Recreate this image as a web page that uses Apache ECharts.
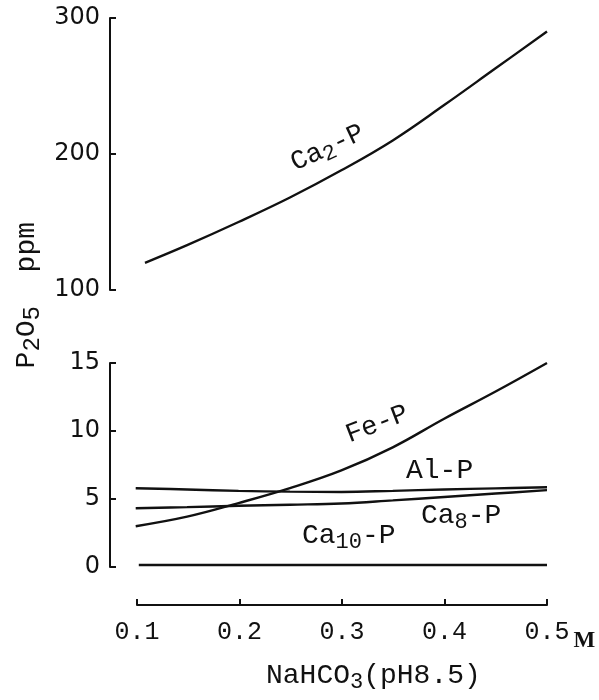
<!DOCTYPE html>
<html>
<head>
<meta charset="utf-8">
<script src="https://cdn.jsdelivr.net/npm/echarts@6/dist/echarts.min.js"></script>
<style>
  html, body { margin: 0; padding: 0; background: #fff; }
  #chart { width: 599px; height: 700px; }
</style>
</head>
<body>
<div id="chart"></div>
<script>
// NaHCO3 concentration (M) vs extracted P2O5 (ppm)
const xCa2 = [0.109, 0.15, 0.2, 0.25, 0.3, 0.35, 0.4, 0.45, 0.5];
const ca2P = [120, 133, 150, 168, 188, 210, 236, 263, 290];

const xLow = [0.1, 0.15, 0.2, 0.25, 0.3, 0.35, 0.4, 0.45, 0.5];
const feP = [3.0, 3.7, 4.7, 5.8, 7.1, 8.8, 10.9, 12.9, 15.0];
const alP = [5.79, 5.7, 5.6, 5.54, 5.52, 5.6, 5.7, 5.78, 5.86];
const ca8P = [4.32, 4.4, 4.5, 4.58, 4.67, 4.9, 5.15, 5.4, 5.65];

const xCa10 = [0.103, 0.5];
const ca10P = [0.15, 0.15];

const pair = (xs, ys) => xs.map((x, i) => [x, ys[i]]);

const mono = "Liberation Mono";
const sans = "DejaVu Sans";
const ink = "#111";

const yAxisBase = {
  axisLine: { show: true, lineStyle: { color: ink, width: 2 } },
  axisTick: { show: true, inside: true, length: 6, lineStyle: { color: ink, width: 2 } },
  axisLabel: { color: ink, fontFamily: sans, fontSize: 24, margin: 10 },
  splitLine: { show: false },
};

const lineBase = {
  type: "line",
  smooth: 0.4,
  showSymbol: false,
  lineStyle: { color: ink, width: 2.4 },
  silent: true,
};

function richFor(size, subSize) {
  return {
    a: { fontFamily: mono, fontSize: size, color: ink, lineHeight: 32 },
    s: { fontFamily: mono, fontSize: subSize, color: ink, lineHeight: 32, padding: [12, 0, 0, 0] },
  };
}

function label(text, left, top, rotation, size, subSize) {
  return {
    type: "text",
    left,
    top,
    rotation: rotation || 0,
    style: { text, rich: richFor(size || 28, subSize || 22), fill: ink },
  };
}

const chart = echarts.init(document.getElementById("chart"));
chart.setOption({
  animation: false,
  backgroundColor: "#fff",
  grid: [
    { left: 110, top: 18, width: 437, height: 272 },
    { left: 110, top: 363, width: 437, height: 204 },
    { left: 137, top: 604, width: 410, height: 1 },
  ],
  xAxis: [
    { gridIndex: 0, type: "value", min: 0.075, max: 0.5, show: false },
    { gridIndex: 1, type: "value", min: 0.075, max: 0.5, show: false },
    {
      gridIndex: 2,
      type: "value",
      min: 0.1,
      max: 0.5,
      interval: 0.1,
      position: "bottom",
      axisLine: { show: true, lineStyle: { color: ink, width: 2 } },
      axisTick: { show: true, inside: true, length: 6, lineStyle: { color: ink, width: 2 } },
      axisLabel: {
        color: ink,
        fontFamily: mono,
        fontSize: 25,
        margin: 15,
        formatter: (v) => v.toFixed(1),
      },
      splitLine: { show: false },
      name: "M",
      nameLocation: "end",
      nameGap: 0,
      nameTextStyle: {
        color: ink,
        fontFamily: "Liberation Serif",
        fontSize: 23,
        fontWeight: "bold",
        verticalAlign: "top",
        padding: [25, 0, 0, 0],
      },
    },
  ],
  yAxis: [
    Object.assign({ gridIndex: 0, type: "value", min: 100, max: 300, interval: 100 }, yAxisBase),
    Object.assign({ gridIndex: 1, type: "value", min: 0, max: 15, interval: 5 }, yAxisBase),
    { gridIndex: 2, type: "value", show: false },
  ],
  series: [
    Object.assign({ name: "Ca2-P", xAxisIndex: 0, yAxisIndex: 0, data: pair(xCa2, ca2P) }, lineBase),
    Object.assign({ name: "Fe-P", xAxisIndex: 1, yAxisIndex: 1, data: pair(xLow, feP) }, lineBase),
    Object.assign({ name: "Al-P", xAxisIndex: 1, yAxisIndex: 1, data: pair(xLow, alP) }, lineBase),
    Object.assign({ name: "Ca8-P", xAxisIndex: 1, yAxisIndex: 1, data: pair(xLow, ca8P) }, lineBase),
    Object.assign({ name: "Ca10-P", xAxisIndex: 1, yAxisIndex: 1, data: pair(xCa10, ca10P) }, lineBase),
  ],
  graphic: [
    label("{a|Ca}{s|2}{a|-P}", 285, 116, Math.PI * 25 / 180, 27, 22),
    label("{a|Fe-P}", 342, 400, Math.PI * 21 / 180, 27, 22),
    label("{a|Al-P}", 406, 457),
    label("{a|Ca}{s|8}{a|-P}", 421, 499),
    label("{a|Ca}{s|10}{a|-P}", 302, 519),
    label("{a|NaHCO}{s|3}{a|(pH8.5)}", 266, 659),
    {
      type: "text",
      left: 9,
      top: 222,
      rotation: Math.PI / 2,
      style: { text: "{a|P}{s|2}{a|O}{s|5}{a|  ppm}", rich: richFor(28, 24), fill: ink },
    },
  ],
});
</script>
</body>
</html>
